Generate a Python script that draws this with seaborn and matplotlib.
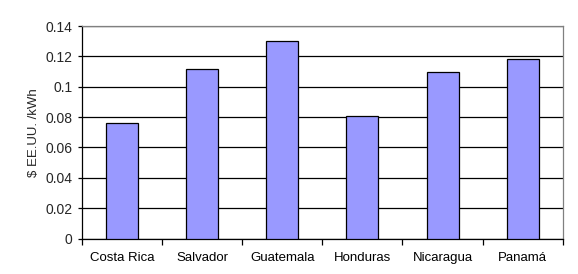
import matplotlib
matplotlib.use("Agg")
import matplotlib.pyplot as plt
import seaborn as sns
import pandas as pd
from matplotlib.ticker import FixedLocator

countries = ["Costa Rica", "Salvador", "Guatemala", "Honduras", "Nicaragua", "Panamá"]
values = [0.076, 0.112, 0.130, 0.081, 0.110, 0.118]
yticks = [0, 0.02, 0.04, 0.06, 0.08, 0.1, 0.12, 0.14]
ytick_labels = ["0", "0.02", "0.04", "0.06", "0.08", "0.1", "0.12", "0.14"]
ylabel = "$ EE.UU. /kWh"

sns.set_style("white")
plt.rcParams["font.family"] = ["Liberation Sans", "DejaVu Sans"]

df = pd.DataFrame({"country": countries, "value": values})

fig = plt.figure(figsize=(5.78, 2.74), dpi=100)
ax = fig.add_axes([82/578, 1 - 238.5/274, (562.7 - 82)/578, (238.5 - 26)/274])

sns.barplot(data=df, x="country", y="value", color="#9999FF", saturation=1,
            width=0.4, edgecolor="black", linewidth=0.9, ax=ax, zorder=3)

ax.set_xlim(-0.5, len(countries) - 0.5)
ax.set_ylim(0, 0.14)
ax.set_yticks(yticks)
ax.set_yticklabels(ytick_labels)
ax.yaxis.grid(True, color="black", linewidth=0.9, zorder=0)
ax.set_axisbelow(True)

ax.xaxis.set_minor_locator(FixedLocator([i - 0.5 for i in range(len(countries) + 1)]))
ax.tick_params(axis="x", which="major", length=0, pad=10, labelsize=9.5, colors="black")
ax.tick_params(axis="x", which="minor", length=4, width=0.9, color="black", direction="out", bottom=True)
ax.tick_params(axis="y", which="major", length=3, width=0.9, color="black", direction="out",
               left=True, pad=4, labelsize=10)

ax.set_xlabel("")
ax.set_ylabel(ylabel, fontsize=9.5, labelpad=3.5)

for side in ["left", "bottom"]:
    ax.spines[side].set_color("black")
    ax.spines[side].set_linewidth(0.9)
for side in ["top", "right"]:
    ax.spines[side].set_color("#808080")
    ax.spines[side].set_linewidth(0.9)
    ax.spines[side].set_visible(True)

fig.savefig("out.png", dpi=100, facecolor="white")
